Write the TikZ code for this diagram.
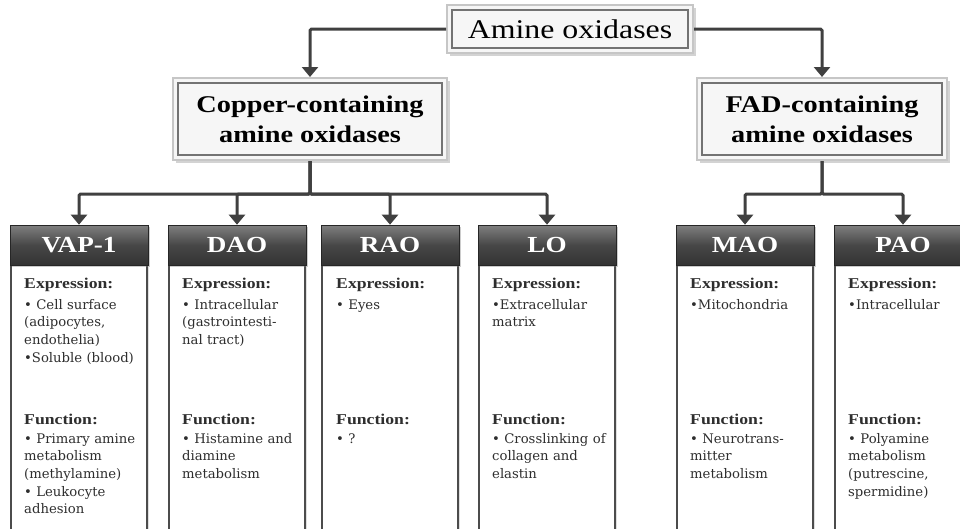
\documentclass[tikz,border=0pt]{standalone}
\usepackage{fontspec}
\newfontfamily\headfont{Liberation Serif}[FakeStretch=1.18]
\newfontfamily\bodyfont{DejaVu Serif}
\usetikzlibrary{arrows.meta,shadows}
\newcommand\colhead[1]{{\headfont\bfseries\fontsize{15}{17}\selectfont #1}}
\begin{document}
\begin{tikzpicture}[x=1pt,y=-1pt,
  topbox/.style={fill=gray!7, draw=gray!45, line width=2pt, inner sep=0pt, align=center,
    drop shadow={opacity=0.35, shadow xshift=2.5pt, shadow yshift=-2.5pt},
    path picture={\draw[black!55, line width=1.3pt] ([shift={(5pt,5pt)}]path picture bounding box.south west) rectangle ([shift={(-5pt,-5pt)}]path picture bounding box.north east);}},
  hdr/.style={minimum width=138pt, minimum height=40pt, inner sep=0pt, top color=black!50, bottom color=black!80, middle color=black!72,
    draw=black!85, line width=0.6pt, text=white, font=\headfont\bfseries\fontsize{23}{25}\selectfont,
    drop shadow={opacity=0.4, shadow xshift=2pt, shadow yshift=-2pt}},
  bodybox/.style={fill=white, draw=black!70, line width=1.3pt, drop shadow={opacity=0.25, shadow xshift=2pt, shadow yshift=-2pt}},
  conn/.style={draw=black!75, line width=3pt, rounded corners=1.5pt, -{Triangle[width=16pt,length=10pt]}},
  txt/.style={font=\bodyfont\fontsize{13.2}{17.6}\selectfont, text=black!82, align=left, text width=125pt, inner sep=0pt, anchor=north west}]
\useasboundingbox (0,0) rectangle (960,528);
\clip (0,0) rectangle (960,528);

\node[topbox, minimum width=246pt, minimum height=48pt, font=\headfont\fontsize{27}{30}\selectfont] (amine) at (570,29) {Amine oxidases};
\node[topbox, minimum width=274pt, minimum height=82pt, font=\headfont\bfseries\fontsize{24}{30}\selectfont] (copper) at (310,119) {Copper-containing\\amine oxidases};
\node[topbox, minimum width=250pt, minimum height=82pt, font=\headfont\bfseries\fontsize{24}{30}\selectfont] (fad) at (822,119) {FAD-containing\\amine oxidases};

\foreach \x/\nm/\lbl in {79/vap/VAP-1, 237/dao/DAO, 390/rao/RAO, 547/lo/LO, 745/mao/MAO, 903/pao/PAO} {
  \draw[bodybox] ({\x-68},265) rectangle ({\x+68},545);
  \node[hdr] (\nm) at (\x,245) {\lbl};
}

\draw[conn] (amine.west) -| (copper.north);
\draw[conn] (amine.east) -| (fad.north);
\foreach \nm in {vap,dao,rao,lo} \draw[conn] (copper.south) -- ++(0,33) -| (\nm.north);
\foreach \nm in {mao,pao} \draw[conn] (fad.south) -- ++(0,33) -| (\nm.north);

\node[txt] (vapexp) at (24,278) {\colhead{Expression:}\\[3pt] • Cell surface\\(adipocytes,\\endothelia)\\•Soluble (blood)};
\node[txt] (vapfun) at (24,414) {\colhead{Function:}\\[1pt] • Primary amine\\metabolism\\(methylamine)\\• Leukocyte\\adhesion};
\node[txt] (daoexp) at (182,278) {\colhead{Expression:}\\[3pt] • Intracellular\\(gastrointesti-\\nal tract)};
\node[txt] (daofun) at (182,414) {\colhead{Function:}\\[1pt] • Histamine and\\diamine\\metabolism};
\node[txt] (raoexp) at (336,278) {\colhead{Expression:}\\[3pt] • Eyes};
\node[txt] (raofun) at (336,414) {\colhead{Function:}\\[1pt] • ?};
\node[txt] (loexp) at (492,278) {\colhead{Expression:}\\[3pt] •Extracellular\\matrix};
\node[txt] (lofun) at (492,414) {\colhead{Function:}\\[1pt] • Crosslinking of\\collagen and\\elastin};
\node[txt] (maoexp) at (690,278) {\colhead{Expression:}\\[3pt] •Mitochondria};
\node[txt] (maofun) at (690,414) {\colhead{Function:}\\[1pt] • Neurotrans-\\mitter\\metabolism};
\node[txt] (paoexp) at (848,278) {\colhead{Expression:}\\[3pt] •Intracellular};
\node[txt] (paofun) at (848,414) {\colhead{Function:}\\[1pt] • Polyamine\\metabolism\\(putrescine,\\spermidine)};
\end{tikzpicture}
\end{document}
